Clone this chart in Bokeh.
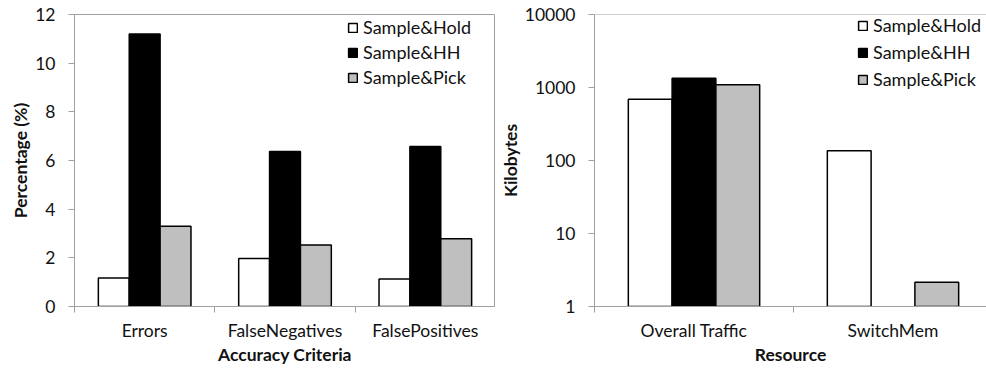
import math
from bokeh.plotting import figure
from bokeh.layouts import row
from bokeh.models import (Range1d, FixedTicker, Legend, LegendItem, ColumnDataSource,
                          PrintfTickFormatter, Span)
from bokeh.embed import file_html
from bokeh.resources import INLINE

# ---------------- data ----------------
series_names = ["Sample&Hold", "Sample&HH", "Sample&Pick"]
series_colors = ["#FFFFFF", "#000000", "#BFBFBF"]

acc_categories = ["Errors", "FalseNegatives", "FalsePositives"]
acc_hold = [1.17, 1.97, 1.13]
acc_hh = [11.2, 6.37, 6.58]
acc_pick = [3.3, 2.53, 2.78]
acc_ticks = [0, 2, 4, 6, 8, 10, 12]

res_categories = ["Overall Traffic", "SwitchMem"]
res_hold = [690, 136]
res_hh = [1340, None]
res_pick = [1090, 2.15]
res_ticks = [1, 10, 100, 1000, 10000]

# ---------------- style ----------------
GREY = "#A0A0A0"
FONT = "Lato"
TICK_SIZE = "17.5px"
LABEL_SIZE = "17.5px"
LEGEND_SIZE = "18px"
BAR_W = 0.22


def style_axes(p):
    for ax in (p.xaxis[0], p.yaxis[0]):
        ax.axis_line_color = GREY
        ax.axis_line_width = 1
        ax.major_label_text_font = FONT
        ax.major_label_text_font_size = TICK_SIZE
        ax.major_label_text_color = "#111111"
        ax.axis_label_text_font = FONT
        ax.axis_label_text_font_style = "bold"
        ax.axis_label_text_font_size = LABEL_SIZE
        ax.axis_label_text_color = "#111111"
    p.xgrid.grid_line_color = None
    p.ygrid.grid_line_color = None
    # x axis: ticks at category boundaries (minor), labels at centres (major)
    xa = p.xaxis[0]
    xa.major_tick_line_color = None
    xa.major_tick_out = 0
    xa.major_tick_in = 0
    xa.minor_tick_line_color = GREY
    xa.minor_tick_out = 6
    xa.minor_tick_in = 0
    xa.major_label_standoff = 7
    xa.axis_label_standoff = 0
    ya = p.yaxis[0]
    ya.major_tick_line_color = GREY
    ya.major_tick_out = 6
    ya.major_tick_in = 0
    ya.minor_tick_line_color = None
    ya.major_label_standoff = 13


def add_bars(p, cats, values_by_series, bottom):
    items = []
    for i, (name, vals, col) in enumerate(zip(series_names, values_by_series, series_colors)):
        xs, tops = [], []
        for j, v in enumerate(vals):
            if v is None:
                continue
            xs.append(j + 0.5 + (i - 1) * BAR_W)
            tops.append(v)
        src = ColumnDataSource(dict(x=xs, top=tops))
        r = p.vbar(x="x", top="top", bottom=bottom, width=BAR_W, source=src,
                   fill_color=col, line_color="black", line_width=1.5)
        items.append(LegendItem(label=name, renderers=[r]))
    return items


def make_legend(items, loc, spacing):
    lg = Legend(items=items, location=loc)
    lg.background_fill_alpha = 0
    lg.border_line_color = None
    lg.padding = 0
    lg.margin = 0
    lg.spacing = spacing
    lg.glyph_width = 11
    lg.glyph_height = 11
    lg.label_standoff = 5
    lg.label_height = 20
    lg.label_text_font = FONT
    lg.label_text_font_size = LEGEND_SIZE
    lg.label_text_color = "#111111"
    return lg


# ---------------- left chart ----------------
p1 = figure(width=495, height=370, output_backend="svg", toolbar_location=None,
            x_range=Range1d(0, len(acc_categories)), y_range=Range1d(0, 12),
            min_border_left=74, min_border_right=0, min_border_top=14, min_border_bottom=64)
p1.outline_line_color = GREY
p1.background_fill_color = "white"
p1.xaxis.axis_label = "Accuracy Criteria"
p1.yaxis.axis_label = "Percentage (%)"
p1.xaxis.ticker = FixedTicker(ticks=[j + 0.5 for j in range(len(acc_categories))],
                              minor_ticks=list(range(len(acc_categories) + 1)))
p1.xaxis.major_label_overrides = {j + 0.5: c for j, c in enumerate(acc_categories)}
p1.yaxis.ticker = FixedTicker(ticks=acc_ticks)
style_axes(p1)
p1.yaxis[0].axis_label_standoff = 1
items1 = add_bars(p1, acc_categories, [acc_hold, acc_hh, acc_pick], 0)
p1.add_layout(make_legend(items1, (273, 218), 3))

# ---------------- right chart ----------------
frame_w2 = 392
cat_px = 199
p2 = figure(width=491, height=370, output_backend="svg", toolbar_location=None,
            y_axis_type="log",
            x_range=Range1d(0, frame_w2 / cat_px), y_range=Range1d(1, 10000),
            min_border_left=99, min_border_right=0, min_border_top=14, min_border_bottom=64)
p2.outline_line_color = None
p2.xaxis.axis_label = "Resource"
p2.yaxis.axis_label = "Kilobytes"
p2.xaxis.ticker = FixedTicker(ticks=[j + 0.5 for j in range(len(res_categories))],
                              minor_ticks=list(range(len(res_categories) + 1)))
p2.xaxis.major_label_overrides = {j + 0.5: c for j, c in enumerate(res_categories)}
p2.yaxis.ticker = FixedTicker(ticks=res_ticks)
p2.yaxis.formatter = PrintfTickFormatter(format="%d")
style_axes(p2)
p2.yaxis[0].axis_label_standoff = 1
p2.add_layout(Span(location=res_ticks[-1], dimension="width", line_color=GREY, line_width=1))
items2 = add_bars(p2, res_categories, [res_hold, res_hh, res_pick], 1)
p2.add_layout(make_legend(items2, (263, 216), 5))

layout = row(p1, p2)
open("out.html", "w").write(file_html(layout, INLINE))
